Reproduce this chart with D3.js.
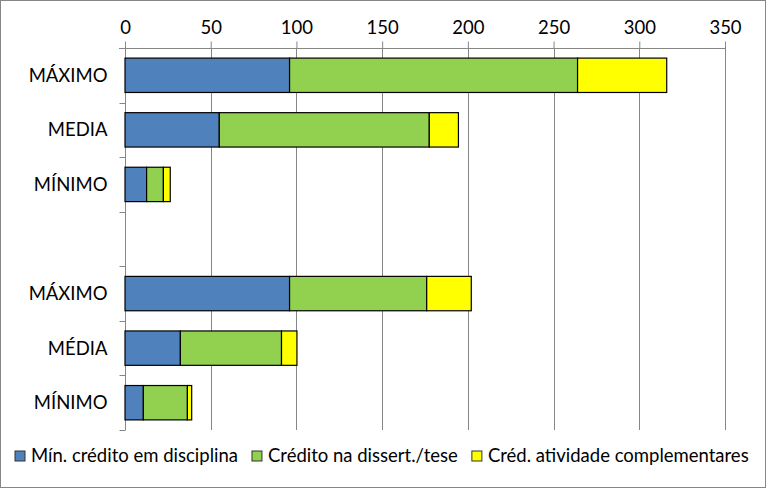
<!DOCTYPE html>
<html>
<head>
<meta charset="utf-8">
<script src="https://cdn.jsdelivr.net/npm/d3@7"></script>
<style>
  body { margin: 0; background: #fff; }
  svg { display: block; font-family: Lato, "Open Sans", sans-serif; }
</style>
</head>
<body>
<svg width="766" height="488"></svg>
<script>
// rows from top to bottom; the empty row separates the two groups
var categories = ["MÁXIMO", "MEDIA", "MÍNIMO", "", "MÁXIMO", "MÉDIA", "MÍNIMO"];
var seriesNames = ["Mín. crédito em disciplina", "Crédito na dissert./tese", "Créd. atividade complementares"];
var disciplina = [96, 55, 12.6, 0, 96, 32.3, 10.7];
var dissertacao = [168, 122.5, 9.8, 0, 80, 59, 25.7];
var complementares = [52, 17, 4, 0, 26, 9, 2.5];
var xTicks = [0, 50, 100, 150, 200, 250, 300, 350];
var colors = ["#4f81bd", "#92d050", "#ffff00"];

var svg = d3.select("svg"),
    width = +svg.attr("width"),
    height = +svg.attr("height");

var plotLeft = 125, plotRight = 725, plotTop = 48, plotBottom = 430;

var rows = categories.map(function(c, i) {
  return { id: i, label: c, s0: disciplina[i], s1: dissertacao[i], s2: complementares[i] };
});

var stack = d3.stack().keys(["s0", "s1", "s2"]);
var layers = stack(rows);

var x = d3.scaleLinear().domain([0, 350]).range([plotLeft, plotRight]);
var y = d3.scaleBand()
    .domain(rows.map(function(d) { return d.id; }))
    .range([plotTop, plotBottom])
    .paddingInner(0.37)
    .paddingOuter(0.185);
var yTicks = d3.scaleBand().domain(y.domain()).range([plotTop, plotBottom]);

// outer border
svg.append("rect")
    .attr("x", 0.5).attr("y", 0.5)
    .attr("width", width - 1).attr("height", height - 1)
    .attr("fill", "#fff")
    .attr("stroke", "#868686");

// vertical gridlines
svg.append("g")
  .selectAll("line")
  .data(xTicks.slice(1))
  .enter().append("line")
    .attr("x1", function(d) { return Math.round(x(d)) + 0.5; })
    .attr("x2", function(d) { return Math.round(x(d)) + 0.5; })
    .attr("y1", plotTop)
    .attr("y2", plotBottom)
    .attr("stroke", "#868686");

// top value axis
var xAxis = svg.append("g")
    .attr("transform", "translate(0," + (plotTop + 0.5) + ")")
    .call(d3.axisTop(x).tickValues(xTicks).tickSize(7).tickPadding(8).tickSizeOuter(0));
xAxis.select(".domain").attr("stroke", "#868686").attr("d", "M" + (plotLeft - 6) + ",0H" + (plotRight + 0.5));
xAxis.selectAll(".tick line").attr("stroke", "#868686");
xAxis.selectAll(".tick text").attr("font-size", 18.5).attr("fill", "#000").attr("font-family", "Lato, sans-serif");

// category axis on the left
var yAxis = svg.append("g")
    .attr("transform", "translate(" + (plotLeft + 0.5) + ",0)");
yAxis.append("line")
    .attr("y1", plotTop).attr("y2", plotBottom)
    .attr("stroke", "#868686");
yAxis.selectAll("line.tk")
  .data(d3.range(categories.length + 1))
  .enter().append("line")
    .attr("class", "tk")
    .attr("x1", -6).attr("x2", 0)
    .attr("y1", function(i) { return Math.round(plotTop + i * yTicks.bandwidth()) + 0.5; })
    .attr("y2", function(i) { return Math.round(plotTop + i * yTicks.bandwidth()) + 0.5; })
    .attr("stroke", "#868686");
yAxis.selectAll("text")
  .data(rows)
  .enter().append("text")
    .attr("x", -18)
    .attr("y", function(d) { return y(d.id) + y.bandwidth() / 2; })
    .attr("dy", "0.35em")
    .attr("text-anchor", "end")
    .attr("font-size", 18.5)
    .text(function(d) { return d.label; });

// stacked bars
svg.append("g")
  .selectAll("g")
  .data(layers)
  .enter().append("g")
    .attr("fill", function(d, i) { return colors[i]; })
  .selectAll("rect")
  .data(function(d) { return d.filter(function(p) { return p[1] > p[0]; }); })
  .enter().append("rect")
    .attr("x", function(d) { return x(d[0]); })
    .attr("y", function(d) { return y(d.data.id); })
    .attr("width", function(d) { return x(d[1]) - x(d[0]); })
    .attr("height", y.bandwidth())
    .attr("stroke", "#000")
    .attr("stroke-width", 1.2);

// legend
var legend = svg.append("g").attr("transform", "translate(0,456)");
var items = legend.selectAll("g")
  .data(seriesNames)
  .enter().append("g");
items.append("rect")
    .attr("width", 10).attr("height", 10)
    .attr("y", -5)
    .attr("fill", function(d, i) { return colors[i]; })
    .attr("stroke", "#333");
items.append("text")
    .attr("x", 16)
    .attr("dy", "0.35em")
    .attr("font-size", 18.5)
    .text(function(d) { return d; });

var xpos = 15;
items.each(function() {
  d3.select(this).attr("transform", "translate(" + xpos + ",0)");
  xpos += 16 + this.querySelector("text").getComputedTextLength() + 14;
});
</script>
</body>
</html>
